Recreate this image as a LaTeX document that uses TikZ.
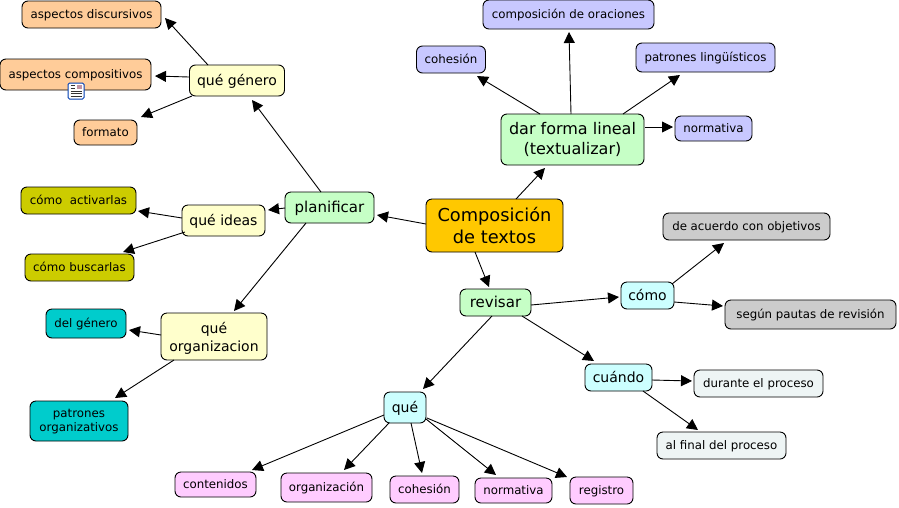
\documentclass[tikz,border=0pt]{standalone}
\usepackage{fontspec}
\setmainfont{DejaVu Sans}
\usetikzlibrary{arrows.meta}
\definecolor{cOrange}{HTML}{FFC800}
\definecolor{cGreen}{HTML}{C6FFC6}
\definecolor{cLav}{HTML}{C8C8FF}
\definecolor{cPeach}{HTML}{FFCC99}
\definecolor{cYellow}{HTML}{FFFFCC}
\definecolor{cOlive}{HTML}{CCCC00}
\definecolor{cTeal}{HTML}{00CCCC}
\definecolor{cCyan}{HTML}{CCFFFF}
\definecolor{cGray}{HTML}{CCCCCC}
\definecolor{cPale}{HTML}{EEF5F5}
\definecolor{cPink}{HTML}{FFCCFF}
\tikzset{
  box/.style={draw=black,line width=0.9pt,rounded corners=6pt,inner sep=0pt,align=center,text=black,anchor=center,
    execute at begin node={\rule[-0.24em]{0pt}{1.2em}}},
  plain/.style={execute at begin node={}},
  small/.style={box,font=\fontsize{11.8}{14}\selectfont},
  mid/.style={box,font=\fontsize{14}{18}\selectfont},
  midl/.style={box,font=\fontsize{15}{20}\selectfont},
  dark/.style={box,font=\fontsize{16}{20}\selectfont},
  big/.style={box,font=\fontsize{17.8}{22}\selectfont},
  sized/.style 2 args={minimum width=#1pt,minimum height=#2pt},
  link/.style={draw=black,line width=0.9pt,-{Triangle[length=11pt,width=11pt]}},
}
\newcommand{\conn}[6]{\draw[link] ([shift={(#3,#4)}]#1.center) -- ([shift={(#5,#6)}]#2.center);}
\newcommand{\dn}[2]{\raisebox{-#1pt}[\height][\depth]{#2}}
\begin{document}
\begin{tikzpicture}[x=1pt,y=-1pt]
\useasboundingbox (0,0) rectangle (899,507);
\fill[white] (0,0) rectangle (899,507);
\node[big,fill=cOrange,sized={137}{53},plain] (comp) at (494.5,225.5) {\dn{2}{Composición}\\\dn{2}{de textos}};
\node[dark,fill=cGreen,sized={143}{51},plain] (dar) at (572.5,139.5) {\dn{1}{dar forma lineal}\\\dn{1}{(textualizar)}};
\node[small,fill=cLav,sized={171}{29}] (ora) at (568.5,14.5) {composición de oraciones};
\node[small,fill=cLav,sized={69}{27}] (coh) at (451,59.5) {cohesión};
\node[small,fill=cLav,sized={139}{29}] (pat) at (705.5,57.5) {patrones lingüísticos};
\node[small,fill=cLav,sized={77}{25}] (nor) at (713.5,128.5) {normativa};
\node[midl,fill=cGreen,sized={89}{31}] (pl) at (329.5,207.5) {planificar};
\node[mid,fill=cYellow,sized={95}{31}] (qg) at (237,80.5) {qué género};
\node[small,fill=cPeach,sized={139}{27}] (ad) at (91.5,14.5) {aspectos discursivos};
\node[small,fill=cPeach,sized={151}{31},plain] (ac) at (75.5,74.5) {aspectos compositivos};
\node[small,fill=cPeach,sized={63}{25}] (fo) at (105.5,132.5) {formato};
\node[mid,fill=cYellow,sized={83}{31}] (id) at (223.5,220.5) {qué ideas};
\node[small,fill=cOlive,sized={115}{27}] (act) at (78.5,200.5) {cómo\ \ activarlas};
\node[small,fill=cOlive,sized={109}{27}] (bus) at (79.5,267.5) {cómo buscarlas};
\node[mid,fill=cYellow,sized={106}{47},plain] (qo) at (214,336.5) {\dn{2}{qué}\\\dn{2}{organizacion}};
\node[small,fill=cTeal,sized={80}{29}] (del) at (86,323.5) {del género};
\node[small,fill=cTeal,sized={98}{40},plain] (po) at (79,421) {\dn{1}{patrones}\\\dn{1}{organizativos}};
\node[midl,fill=cGreen,sized={71}{27}] (rev) at (495.5,302.5) {revisar};
\node[mid,fill=cCyan,sized={53}{27}] (cm) at (647.5,295.5) {cómo};
\node[mid,fill=cCyan,sized={67}{27}] (cu) at (618.5,377.5) {cuándo};
\node[small,fill=cGray,sized={167}{27}] (acu) at (746.5,226.5) {de acuerdo con objetivos};
\node[small,fill=cGray,sized={171}{29}] (seg) at (810.5,314.5) {según pautas de revisión};
\node[small,fill=cPale,sized={129}{27}] (dur) at (758.5,383.5) {durante el proceso};
\node[small,fill=cPale,sized={129}{27}] (fin) at (721.5,445.5) {al final del proceso};
\node[mid,fill=cCyan,sized={42}{31}] (q) at (405,407.5) {qué};
\node[small,fill=cPink,sized={81}{25}] (con) at (215.5,484.5) {contenidos};
\node[small,fill=cPink,sized={91}{29}] (org) at (326.5,487.5) {organización};
\node[small,fill=cPink,sized={69}{27}] (co2) at (424.5,489.5) {cohesión};
\node[small,fill=cPink,sized={77}{25}] (no2) at (513.5,490.5) {normativa};
\node[small,fill=cPink,sized={63}{27}] (reg) at (601.5,490.5) {registro};
% icon under "aspectos compositivos"
\fill[white,draw=blue!65!cyan!70!black,line width=1pt,rounded corners=1.5pt] (68,83) rectangle (84,99);
\draw[black!80,line width=0.8pt] (70.5,91) -- (81.5,91) (70.5,93.5) -- (81.5,93.5) (70.5,96) -- (81.5,96) (70.5,85.5) -- (75,85.5) (70.5,88) -- (75,88);
\fill[orange!60!blue!60] (76.5,85) rectangle (81.5,89);
\conn{comp}{dar}{21.5}{-26.5}{-27.5}{28.5}
\conn{comp}{pl}{-68.5}{-1.5}{47.5}{7.5}
\conn{comp}{rev}{-19.5}{26.5}{-6.5}{-15.5}
\conn{dar}{coh}{-32.5}{-25.5}{26}{16.5}
\conn{dar}{ora}{-1.5}{-25.5}{0.5}{17.5}
\conn{dar}{pat}{50.5}{-25.5}{-25.5}{17.5}
\conn{dar}{nor}{72.5}{-12.5}{-40.5}{-1.5}
\conn{pl}{qg}{-8.5}{-15.5}{15}{19.5}
\conn{pl}{id}{-44.5}{0.5}{44.5}{-10.5}
\conn{pl}{qo}{-23.5}{15.5}{20}{-25.5}
\conn{qg}{ad}{-29}{-15.5}{73.5}{3.5}
\conn{qg}{ac}{-48}{-3.5}{79.5}{1.5}
\conn{qg}{fo}{-45}{15.5}{35.5}{-15.5}
\conn{id}{act}{-41.5}{-2.5}{59.5}{10.5}
\conn{id}{bus}{-38.5}{11.5}{43.5}{-15.5}
\conn{qo}{del}{-53}{-1.5}{43}{6.5}
\conn{qo}{po}{-40}{23.5}{36}{-23}
\conn{rev}{cm}{35.5}{2.5}{-28.5}{1.5}
\conn{rev}{cu}{26.5}{13.5}{-24.5}{-16.5}
\conn{rev}{q}{-3.5}{13.5}{18}{-18.5}
\conn{cm}{acu}{24.5}{-11.5}{-22.5}{16.5}
\conn{cm}{seg}{26.5}{6.5}{-87.5}{-8.5}
\conn{cu}{dur}{33.5}{2.5}{-66.5}{-2.5}
\conn{cu}{fin}{24.5}{13.5}{-23.5}{-15.5}
\conn{q}{con}{-21}{7.5}{36.5}{-14.5}
\conn{q}{org}{-16}{15.5}{17.5}{-17.5}
\conn{q}{co2}{6}{15.5}{-2.5}{-16.5}
\conn{q}{no2}{21}{11.5}{-17.5}{-15.5}
\conn{q}{reg}{22}{10.5}{-34.5}{-13.5}
\end{tikzpicture}
\end{document}
